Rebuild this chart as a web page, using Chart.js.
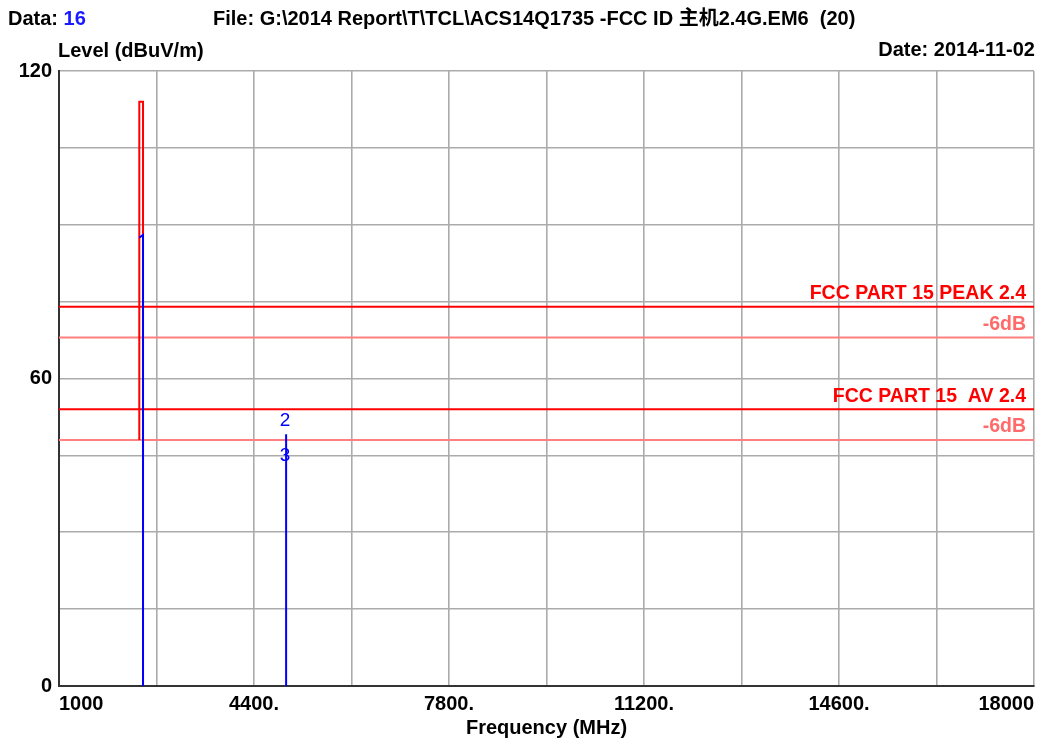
<!DOCTYPE html>
<html>
<head>
<meta charset="utf-8">
<script src="https://cdn.jsdelivr.net/npm/chart.js@4/dist/chart.umd.min.js"></script>
<style>
  html, body { margin: 0; padding: 0; background: #fff; }
  #wrap { position: relative; width: 1040px; height: 740px; overflow: hidden; font-family: "Liberation Sans", Arial, sans-serif; font-weight: bold; font-size: 20px; color: #000; }
  #wrap canvas { position: absolute; left: 0; top: 0; }
  .txt { position: absolute; white-space: pre; line-height: 24px; }
</style>
</head>
<body>
<div id="wrap">
  <canvas id="c" width="1040" height="740"></canvas>
  <div class="txt" style="left:8px; top:6px;">Data: <span style="color:#1a1aff">16</span></div>
  <div class="txt" style="left:213px; top:6px; font-family: 'Liberation Sans', 'Noto Sans CJK SC', sans-serif;">File: G:\2014 Report\T\TCL\ACS14Q1735 -FCC ID 主机2.4G.EM6  (20)</div>
  <div class="txt" style="left:58px; top:38px;">Level (dBuV/m)</div>
  <div class="txt" style="right:5px; top:37px;">Date: 2014-11-02</div>
</div>
<script>
// ---- data ----
const freqMin = 1000, freqMax = 18000, freqStep = 1700;
const levelMin = 0, levelMax = 120, levelStep = 15;
const xTickValues = [1000, 4400, 7800, 11200, 14600, 18000];
const xTickLabels = ['1000', '4400.', '7800.', '11200.', '14600.', '18000'];
const yTickValues = [0, 60, 120];
const yTickLabels = ['0', '60', '120'];

// peak trace (red)
const peakFreq  = [2400, 2400, 2465, 2465];
const peakLevel = [48, 114, 114, 0];
// average / marker trace (blue)
const avgFreq  = [2400, 2465, 2465, 2465, 4960, 4960];
const avgLevel = [87.5, 88, 0, null, 49.1, 0];

// limit lines
const limitNames  = ['FCC PART 15 PEAK 2.4', '-6dB', 'FCC PART 15  AV 2.4', '-6dB'];
const limitLevels = [74, 68, 54, 48];
const limitIsMain = [true, false, true, false];

// markers
const markerLabels = ['2', '3'];
const markerFreq   = [4960, 4960];
const markerLevel  = [49.1, 45.2];

// ---- styles ----
const RED = '#ff0000', PALE = '#ff8080', BLUE = '#0000ff';

function pts(xs, ys) { return xs.map((x, i) => ({ x: x, y: ys[i] })); }

const datasets = [];
limitLevels.forEach((lv, i) => {
  datasets.push({
    label: limitNames[i],
    data: pts([freqMin, freqMax], [lv, lv]),
    borderColor: limitIsMain[i] ? RED : PALE,
    borderWidth: limitIsMain[i] ? 2 : 1.8,
    order: 5 + i
  });
});
datasets.push({ label: 'Peak', data: pts(peakFreq, peakLevel), borderColor: RED, borderWidth: 2, order: 1 });
datasets.push({ label: 'Average', data: pts(avgFreq, avgLevel), borderColor: BLUE, borderWidth: 2, order: 0 });

const labelPlugin = {
  id: 'labels',
  afterDatasetsDraw(chart) {
    const { ctx, scales: { x, y }, chartArea } = chart;
    ctx.save();
    ctx.textAlign = 'right';
    ctx.textBaseline = 'middle';
    ctx.font = 'bold 19.5px "Liberation Sans", Arial, sans-serif';
    limitLevels.forEach((lv, i) => {
      ctx.fillStyle = limitIsMain[i] ? RED : '#ff6a6a';
      ctx.fillText(limitNames[i], chartArea.right - 8, y.getPixelForValue(lv) - 13);
    });
    ctx.textAlign = 'center';
    ctx.font = '19px "Liberation Sans", Arial, sans-serif';
    ctx.fillStyle = BLUE;
    markerLabels.forEach((m, i) => {
      const off = i === 0 ? -14 : 1;
      ctx.fillText(m, x.getPixelForValue(markerFreq[i]) - 1, y.getPixelForValue(markerLevel[i]) + off);
    });
    ctx.restore();
  }
};

new Chart(document.getElementById('c'), {
  type: 'scatter',
  data: { datasets: datasets },
  options: {
    responsive: false,
    animation: false,
    devicePixelRatio: 1,
    showLine: true,
    spanGaps: false,
    elements: { point: { radius: 0, hoverRadius: 0 }, line: { tension: 0, fill: false } },
    layout: { padding: { top: 71, right: 4, left: 0, bottom: 0 } },
    plugins: { legend: { display: false }, tooltip: { enabled: false }, title: { display: false } },
    scales: {
      x: {
        type: 'linear',
        min: freqMin, max: freqMax,
        afterBuildTicks(scale) {
          const t = [];
          for (let v = freqMin; v <= freqMax; v += freqStep) t.push({ value: v });
          scale.ticks = t;
        },
        afterFit(scale) { scale.height = 54; },
        grid: { color: '#ababab', lineWidth: 1.6, drawTicks: false, tickLength: 0 },
        border: { color: '#333333', width: 2 },
        ticks: {
          align: 'inner',
          padding: 6,
          maxRotation: 0,
          autoSkip: false,
          color: '#000',
          font: { family: '"Liberation Sans", Arial, sans-serif', size: 20, weight: 'bold' },
          callback(v) { const i = xTickValues.indexOf(v); return i >= 0 ? xTickLabels[i] : ''; }
        },
        title: {
          display: true,
          text: 'Frequency (MHz)',
          color: '#000',
          padding: { top: 2, bottom: 0 },
          font: { family: '"Liberation Sans", Arial, sans-serif', size: 20, weight: 'bold' }
        }
      },
      y: {
        type: 'linear',
        min: levelMin, max: levelMax,
        afterBuildTicks(scale) {
          const t = [];
          for (let v = levelMin; v <= levelMax; v += levelStep) t.push({ value: v });
          scale.ticks = t;
        },
        afterFit(scale) { scale.width = 59; },
        grid: { color: '#ababab', lineWidth: 1.6, drawTicks: false, tickLength: 0 },
        border: { color: '#333333', width: 2 },
        ticks: {
          padding: 7,
          autoSkip: false,
          color: '#000',
          font: { family: '"Liberation Sans", Arial, sans-serif', size: 20, weight: 'bold' },
          callback(v) { const i = yTickValues.indexOf(v); return i >= 0 ? yTickLabels[i] : ''; }
        }
      }
    }
  },
  plugins: [labelPlugin]
});
</script>
</body>
</html>
